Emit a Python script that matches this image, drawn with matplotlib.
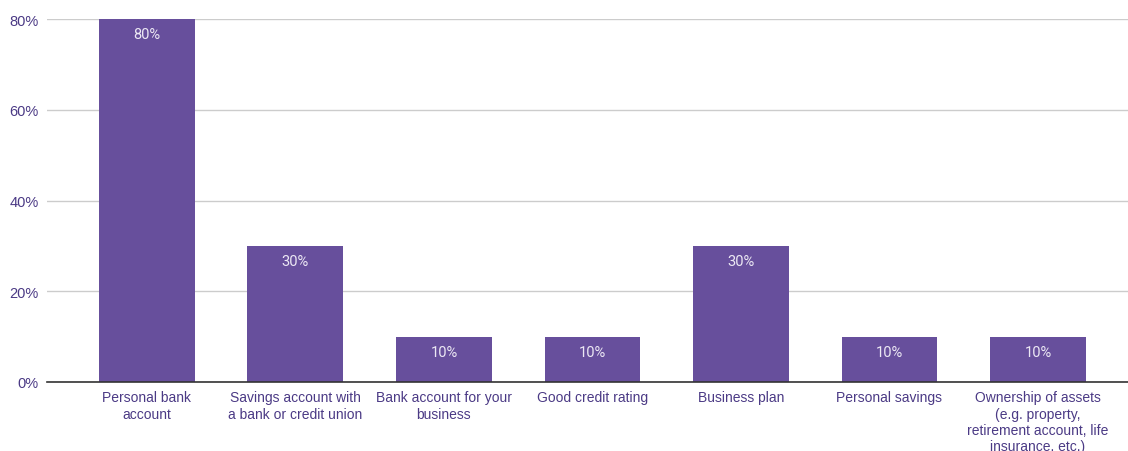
import numpy as np
import matplotlib.pyplot as plt

# Share of respondents who had each item
categories = ['Personal bank\naccount',
              'Savings account with\na bank or credit union',
              'Bank account for your\nbusiness',
              'Good credit rating',
              'Business plan',
              'Personal savings',
              'Ownership of assets\n(e.g. property,\nretirement account, life\ninsurance, etc.)']
shares = [0.80, 0.30, 0.10, 0.10, 0.30, 0.10, 0.10]
yticks = [0.0, 0.2, 0.4, 0.6, 0.8]

bar_color = '#674f9c'
text_color = '#4b3a85'

fig = plt.figure(figsize=(11.28, 4.52), dpi=100)
ax = fig.add_axes([47/1128, 1 - 383/452, 1 - 47/1128, (383 - 20)/452])

x = np.arange(len(categories))
ax.bar(x, shares, width=0.646, color=bar_color, zorder=3)

for xi, v in zip(x, shares):
    ax.text(xi, v - 0.033, f'{v:.0%}', ha='center', va='center',
            color='#ece8f4', fontsize=10.5, family='Roboto', zorder=4)

ax.set_xlim(-0.673, 6.606)
ax.set_ylim(0, 0.8)
ax.set_yticks(yticks)
ax.set_yticklabels([f'{t:.0%}' for t in yticks])
ax.set_xticks(x)
ax.set_xticklabels(categories, linespacing=1.2)

ax.grid(axis='y', color='#cccccc', linewidth=1, zorder=0)
ax.set_axisbelow(True)
for s in ['top', 'right', 'left']:
    ax.spines[s].set_visible(False)
ax.spines['bottom'].set_color('#333333')
ax.spines['bottom'].set_linewidth(1.2)
ax.spines['bottom'].set_zorder(5)

ax.tick_params(axis='both', length=0, colors=text_color)
ax.tick_params(axis='x', pad=6, labelsize=10)
ax.tick_params(axis='y', pad=6, labelsize=10.5)
for lab in ax.get_xticklabels() + ax.get_yticklabels():
    lab.set_family('Liberation Sans')

fig.savefig('out.png', dpi=100)
